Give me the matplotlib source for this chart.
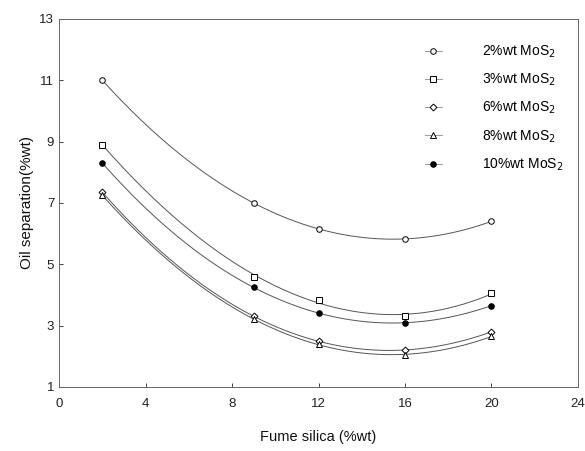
import numpy as np
import matplotlib
matplotlib.use("Agg")
import matplotlib.pyplot as plt

plt.rcParams['font.family'] = ['Liberation Sans', 'DejaVu Sans']

fume_silica = [2, 9, 12, 16, 20]
series_labels = ['2%wt MoS$_2$', '3%wt MoS$_2$', '6%wt MoS$_2$', '8%wt MoS$_2$', '10%wt MoS$_2$']
oil_2 = [11.0, 7.0, 6.15, 5.83, 6.4]
oil_3 = [8.9, 4.6, 3.85, 3.3, 4.05]
oil_6 = [7.35, 3.3, 2.5, 2.2, 2.8]
oil_8 = [7.25, 3.2, 2.4, 2.05, 2.65]
oil_10 = [8.3, 4.25, 3.4, 3.1, 3.65]
series = [oil_2, oil_3, oil_6, oil_8, oil_10]
markers = ['o', 's', 'D', '^', 'o']
fills = ['white', 'white', 'white', 'white', 'black']
sizes = [4, 4, 3.5, 4, 4]

fig = plt.figure(figsize=(5.85, 4.51), dpi=100)
ax = fig.add_axes([0.101, 0.142, 0.887, 0.816])

xs = np.linspace(2, 20, 200)
handles = []
for y, lab, m, fc, ms in zip(series, series_labels, markers, fills, sizes):
    coef = np.polyfit(fume_silica, y, 3)
    ax.plot(xs, np.polyval(coef, xs), color='#555555', lw=0.7)
    ax.plot(fume_silica, y, linestyle='none', marker=m, mfc=fc, mec='black', ms=ms, mew=0.7)
    h, = ax.plot([], [], color='#888888', lw=0.6, marker=m, mfc=fc, mec='black', ms=ms, mew=0.7, label=lab)
    handles.append(h)

ax.set_xlim(0, 24)
ax.set_ylim(1, 13)
ax.set_xticks([0, 4, 8, 12, 16, 20, 24])
ax.set_yticks([1, 3, 5, 7, 9, 11, 13])
ax.tick_params(direction='in', length=3, width=0.6, labelsize=9.5, colors='#222222')
ax.tick_params(axis='x', pad=8)
for s in ax.spines.values():
    s.set_color('#666666')
    s.set_linewidth(0.7)

ax.set_xlabel('Fume silica (%wt)', fontsize=10.5, color='#111111', labelpad=14)
ax.set_ylabel('Oil separation(%wt)', fontsize=11, color='#111111')

leg = ax.legend(handles=handles, loc='upper right', bbox_to_anchor=(0.996, 0.967), frameon=False,
                fontsize=10, handlelength=1.2, labelspacing=0.85, handletextpad=2.9)

fig.savefig('out.png', dpi=100)
